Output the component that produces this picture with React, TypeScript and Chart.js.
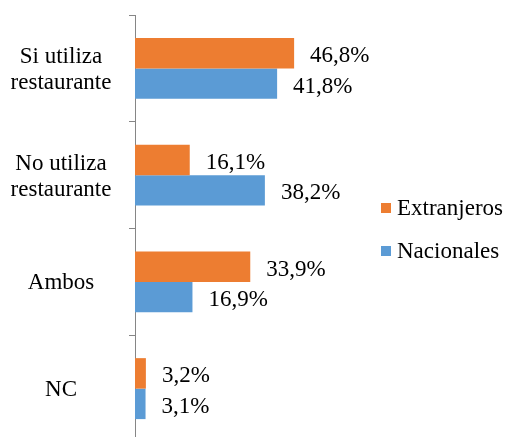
import React, { useEffect, useRef } from "react";
import { Chart, registerables } from "chart.js";

Chart.register(...registerables);

const categories: string[][] = [
  ["Si utiliza", "restaurante"],
  ["No utiliza", "restaurante"],
  ["Ambos"],
  ["NC"],
];
const extranjeros = [46.8, 16.1, 33.9, 3.2];
const nacionales = [41.8, 38.2, 16.9, 3.1];
const seriesNames = ["Extranjeros", "Nacionales"];
const seriesColors = ["#ED7D31", "#5B9BD5"];

const FONT = '23px "Liberation Serif", "Times New Roman", serif';
const W = 510;
const H = 444;

const fmt = (v: number) => v.toFixed(1).replace(".", ",") + "%";

const textPlugin = {
  id: "textPlugin",
  afterDraw(chart: any) {
    const ctx = chart.ctx as CanvasRenderingContext2D;
    ctx.save();
    ctx.font = FONT;
    ctx.fillStyle = "#000";
    const yScale = chart.scales.y;
    ctx.textAlign = "center";
    ctx.textBaseline = "alphabetic";
    categories.forEach((lines, i) => {
      const cy = yScale.getPixelForValue(i);
      const lh = 26;
      const n = lines.length;
      lines.forEach((line, j) => {
        const yy = cy + (j - (n - 1) / 2) * lh + 7.5;
        ctx.fillText(line, 61, yy);
      });
    });
    ctx.textAlign = "left";
    chart.data.datasets.forEach((ds: any, di: number) => {
      const meta = chart.getDatasetMeta(di);
      meta.data.forEach((el: any, i: number) => {
        ctx.fillText(fmt(ds.data[i]), el.x + 16, el.y + 9);
      });
    });
    const legendBaselines = [215, 258];
    seriesNames.forEach((name, i) => {
      const b = legendBaselines[i];
      ctx.fillStyle = seriesColors[i];
      ctx.fillRect(381, b - 12, 10, 10);
      ctx.fillStyle = "#000";
      ctx.fillText(name, 397, b);
    });
    ctx.restore();
  },
};

export default function App() {
  const ref = useRef<HTMLCanvasElement | null>(null);
  useEffect(() => {
    if (!ref.current) return;
    const chart = new Chart(ref.current, {
      type: "bar",
      data: {
        labels: categories.map((c) => c.join(" ")),
        datasets: [
          {
            label: seriesNames[0],
            data: extranjeros,
            backgroundColor: seriesColors[0],
            categoryPercentage: 0.571,
            barPercentage: 1,
          },
          {
            label: seriesNames[1],
            data: nacionales,
            backgroundColor: seriesColors[1],
            categoryPercentage: 0.571,
            barPercentage: 1,
          },
        ],
      },
      options: {
        indexAxis: "y",
        animation: false,
        responsive: false,
        layout: { padding: { left: 0, top: 15, right: W - 305, bottom: 2 } },
        plugins: {
          legend: { display: false },
          tooltip: { enabled: false },
        },
        scales: {
          x: { display: false, min: 0, max: 50 },
          y: {
            afterFit: (s: any) => {
              s.width = 135;
            },
            grid: {
              offset: true,
              drawOnChartArea: false,
              drawTicks: true,
              tickLength: 6,
              color: "#868686",
            },
            border: { display: true, color: "#868686", width: 1 },
            ticks: { display: false },
          },
        },
      },
      plugins: [textPlugin],
    });
    return () => {
      chart.destroy();
    };
  }, []);
  return (
    <div style={{ position: "fixed", left: 0, top: 0, width: W, height: H, background: "#fff" }}>
      <canvas ref={ref} width={W} height={H} style={{ width: W, height: H, display: "block" }} />
    </div>
  );
}
